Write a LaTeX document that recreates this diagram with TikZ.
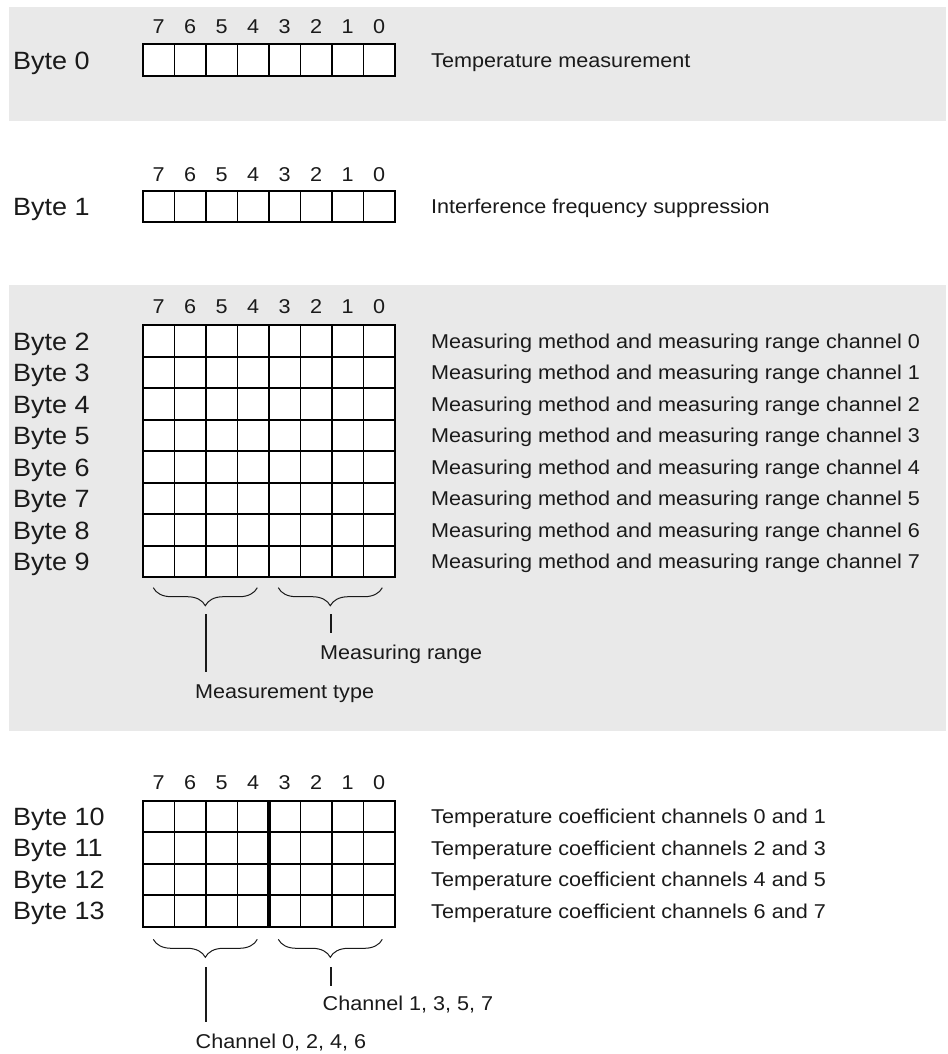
\documentclass[tikz,border=0pt]{standalone}
\usepackage{fontspec}
\setmainfont{Liberation Sans}[FakeStretch=1.08]
\usetikzlibrary{decorations.pathreplacing}
\definecolor{band}{HTML}{E9E9E9}
\definecolor{ink}{HTML}{1A1A1A}
\begin{document}
\begin{tikzpicture}[x=1pt,y=-1pt,
 txt/.style={anchor=base west,inner sep=0,font=\fontsize{20}{24}\selectfont,text=ink},
 lbl/.style={anchor=base west,inner sep=0,font=\fontsize{25}{30}\selectfont,text=ink},
 bit/.style={anchor=base,inner sep=0,font=\fontsize{20}{24}\selectfont,text=ink},
 cellframe/.style={draw=black,fill=white,line width=1.8pt},
 cellline/.style={draw=black,line width=1.8pt},
 brc/.style={decorate,decoration={brace,mirror,amplitude=18pt},line width=1pt,draw=ink},
 stem/.style={line width=1.4pt,draw=ink}]
\useasboundingbox (0,0) rectangle (947,1054);
\fill[band] (9,7) rectangle (946,120.7);
\fill[band] (9,285) rectangle (946,731);
% ---- grids: top, rows, digit baseline
\foreach \T/\R/\D/\g in {44.3/1/33.3/a, 190.7/1/181.7/b, 325.3/8/313.3/c, 800.7/4/789.3/d}{
  \pgfmathsetmacro\B{\T+31.5*\R}
  \filldraw[cellframe] (143,\T) rectangle (395,\B);
  \foreach \i in {1,...,7}{\draw[cellline] (143+31.5*\i,\T) -- (143+31.5*\i,\B);}
  \ifnum\R>1
    \pgfmathtruncatemacro\RR{\R-1}
    \foreach \j in {1,...,\RR}{\draw[cellline] (143,\T+31.5*\j) -- (395,\T+31.5*\j);}
  \fi
  \foreach \b [count=\i from 0] in {7,6,5,4,3,2,1,0}
    \node[bit] (bit\g\b) at (143+31.5*\i+15.75,\D) {\b};
}
\draw[line width=3.2pt] (269,800.7) -- (269,926.7);
% ---- row labels
\node[lbl] (l0) at (13,69.3) {Byte 0};
\node[txt] (r0) at (431,67.5) {Temperature measurement};
\node[lbl] (l1) at (13,215.7) {Byte 1};
\node[txt] (r1) at (431,213.9) {Interference frequency suppression};
\foreach \k in {0,...,7}{
  \pgfmathtruncatemacro\n{\k+2}
  \pgfmathsetmacro\c{325.3+31.5*(\k+0.5)}
  \node[lbl] (l\n) at (13,\c+9) {Byte \n};
  \node[txt] (r\n) at (431,\c+7.2) {Measuring method and measuring range channel \k};
}
\foreach \k/\a/\b in {0/0/1,1/2/3,2/4/5,3/6/7}{
  \pgfmathtruncatemacro\n{\k+10}
  \pgfmathsetmacro\c{800.7+31.5*(\k+0.5)}
  \node[lbl] (l\n) at (13,\c+9) {Byte \n};
  \node[txt] (r\n) at (431,\c+7.2) {Temperature coefficient channels \a\ and \b};
}
% ---- braces, middle section
\draw[brc] (153.3,587.7) -- (257.3,587.7);
\draw[brc] (278.3,587.7) -- (382.3,587.7);
\coordinate (s1a) at (206,614); \coordinate (s1b) at (206,671.7);
\coordinate (s2a) at (331,614); \coordinate (s2b) at (331,633.3);
\draw[stem] (s1a) -- (s1b);
\draw[stem] (s2a) -- (s2b);
\node[txt] (mr) at (320,659) {Measuring range};
\node[txt] (mt) at (195,698) {Measurement type};
% ---- braces, bottom section
\draw[brc] (153.3,939.3) -- (257.3,939.3);
\draw[brc] (278.3,939.3) -- (382.3,939.3);
\coordinate (s3a) at (206,967.3); \coordinate (s3b) at (206,1021.7);
\coordinate (s4a) at (331,967.3); \coordinate (s4b) at (331,986);
\draw[stem] (s3a) -- (s3b);
\draw[stem] (s4a) -- (s4b);
\node[txt] (c1) at (322.5,1010) {Channel 1, 3, 5, 7};
\node[txt] (c0) at (195.5,1048) {Channel 0, 2, 4, 6};
\end{tikzpicture}
\end{document}
